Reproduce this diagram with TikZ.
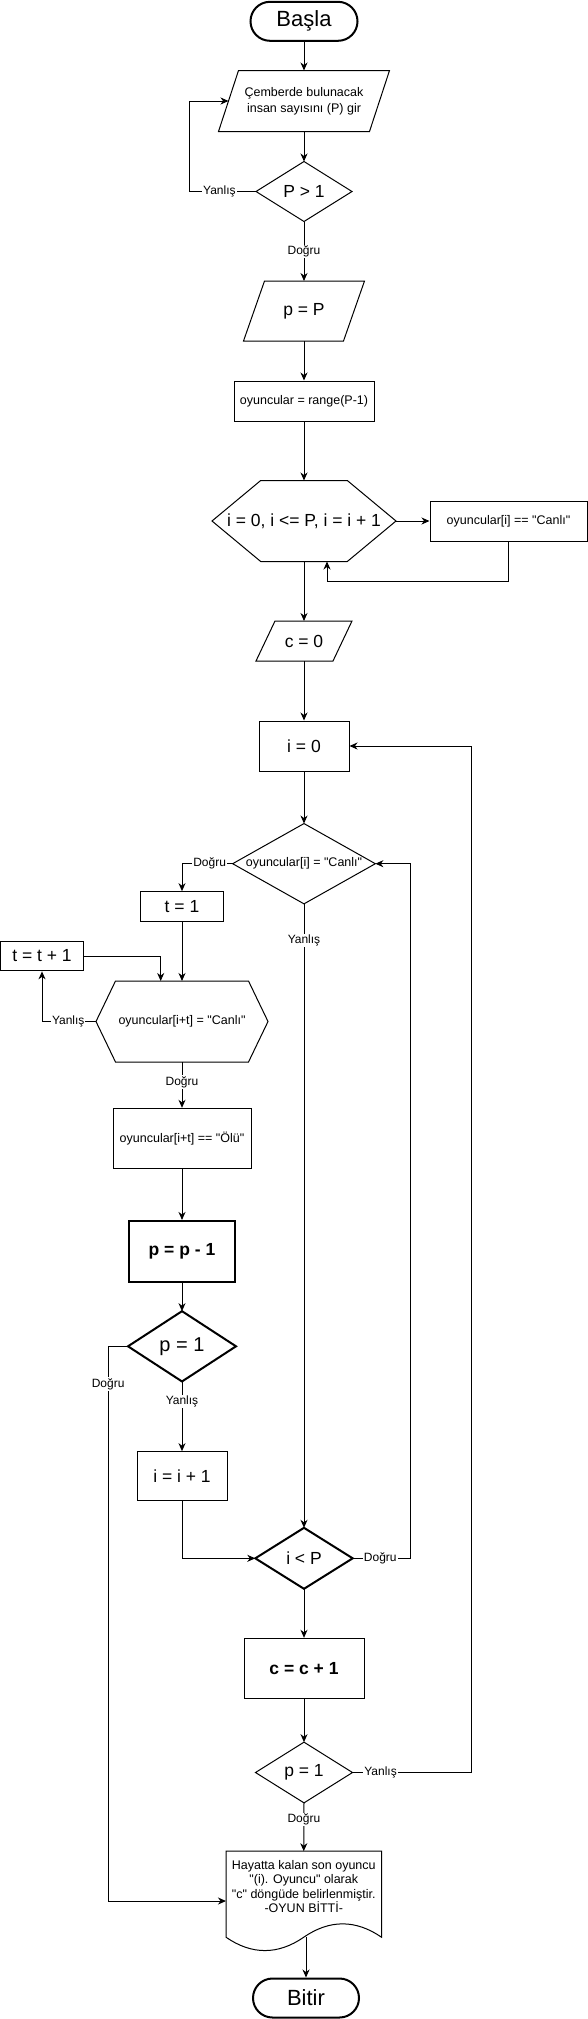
\documentclass[tikz,border=0pt]{standalone}
\usepackage{fontspec}
\setmainfont[Ligatures=TeXOff]{Liberation Sans}
\usetikzlibrary{arrows.meta}
\newcommand{\fsz}[2]{\fontsize{#1}{#2}\selectfont}
\begin{document}
\begin{tikzpicture}[x=1pt,y=-1pt,line width=1pt,
  arr/.style={-{Stealth[length=8pt,width=7pt,inset=2.5pt]},line width=1pt},
  box/.style={draw,rectangle,inner sep=0pt,align=center,font=\fsz{17.5}{21}},
  inv/.style={rectangle,inner sep=0pt,align=center,font=\fsz{17.5}{21}},
  small/.style={font=\fsz{12.5}{14.4}},
  lab/.style={fill=white,inner sep=1pt,font=\fsz{12}{14}},
  heavy/.style={line width=2pt},
  term/.style={box,heavy,rounded corners=19.5pt,font=\fsz{22}{26}}]
\useasboundingbox (0,0) rectangle (588,2019);

% nodes
\node[term,minimum width=107pt,minimum height=39pt] (start) at (304,21.3) {Başla};
\node[inv,font=\fsz{12.5}{16},minimum width=150pt,minimum height=60pt] (in1) at (304,101) {Çemberde bulunacak\\insan sayısını (P) gir};
\node[inv,minimum width=95pt,minimum height=59pt] (d1) at (304,191.5) {P > 1};
\node[inv,minimum width=99pt,minimum height=59pt] (in2) at (304,311) {p = P};
\node[box,small,minimum width=140pt,minimum height=40pt] (r1) at (304,401) {oyuncular = range(P-1)};
\node[inv,minimum width=183pt,minimum height=80pt] (h1) at (304,521) {i = 0, i <= P, i = i + 1};
\node[box,small,minimum width=157pt,minimum height=40pt] (r2) at (508.5,521) {oyuncular[i] == "Canlı"};
\node[inv,minimum width=76pt,minimum height=39pt] (in3) at (304,641) {c = 0};
\node[box,minimum width=90pt,minimum height=50pt] (r3) at (304,746) {i = 0};
\node[inv,small,minimum width=141.7pt,minimum height=79.3pt] (d2) at (304,863.7) {oyuncular[i] = "Canlı"};
\node[box,minimum width=83.6pt,minimum height=29.7pt] (r4) at (182,906.5) {t = 1};
\node[box,minimum width=82.5pt,minimum height=29.7pt] (r5) at (42,956) {t = t + 1};
\node[inv,small,minimum width=171pt,minimum height=80pt] (h2) at (182,1021.5) {oyuncular[i+t] = "Canlı"};
\node[box,small,minimum width=138pt,minimum height=60pt] (r6) at (182,1138.3) {oyuncular[i+t] == "Ölü"};
\node[box,heavy,font=\fsz{17.5}{21}\bfseries,minimum width=106.5pt,minimum height=60.7pt] (r7) at (182,1251.3) {p = p - 1};
\node[inv,font=\fsz{20}{24},minimum width=107pt,minimum height=69.3pt] (d3) at (182,1346.3) {p = 1};
\node[box,minimum width=90pt,minimum height=49.3pt] (r8) at (182,1476.3) {i = i + 1};
\node[inv,minimum width=96.4pt,minimum height=60pt] (d4) at (304,1558.3) {i < P};
\node[box,font=\fsz{17.5}{21}\bfseries,minimum width=120pt,minimum height=60pt] (r9) at (304,1668.3) {c = c + 1};
\node[inv,minimum width=96pt,minimum height=59.7pt] (d5) at (304,1772.5) {p = 1};
\node[inv,small,minimum width=154.5pt,minimum height=70pt] (doc) at (303.75,1886.7) {Hayatta kalan son oyuncu\\"(i). Oyuncu" olarak\\"c" döngüde belirlenmiştir.\\-OYUN BİTTİ-};
\node[term,minimum width=106pt,minimum height=39pt] (end) at (306,1998) {Bitir};

% outlines
\draw ([xshift=10pt]in1.north west) -- ([xshift=10pt]in1.north east) -- ([xshift=-10pt]in1.south east) -- ([xshift=-10pt]in1.south west) -- cycle;
\draw ([xshift=10.5pt]in2.north west) -- ([xshift=10.5pt]in2.north east) -- ([xshift=-10.5pt]in2.south east) -- ([xshift=-10.5pt]in2.south west) -- cycle;
\draw ([xshift=9.5pt]in3.north west) -- ([xshift=9.5pt]in3.north east) -- ([xshift=-9.5pt]in3.south east) -- ([xshift=-9.5pt]in3.south west) -- cycle;
\draw (d1.north) -- (d1.east) -- (d1.south) -- (d1.west) -- cycle;
\draw (d2.north) -- (d2.east) -- (d2.south) -- (d2.west) -- cycle;
\draw[heavy] (d3.north) -- (d3.east) -- (d3.south) -- (d3.west) -- cycle;
\draw[heavy] (d4.north) -- (d4.east) -- (d4.south) -- (d4.west) -- cycle;
\draw (d5.north) -- (d5.east) -- (d5.south) -- (d5.west) -- cycle;
\draw (h1.west) -- ([xshift=48.7pt]h1.north west) -- ([xshift=-48.7pt]h1.north east) -- (h1.east) -- ([xshift=-48.7pt]h1.south east) -- ([xshift=48.7pt]h1.south west) -- cycle;
\draw (h2.west) -- ([xshift=19.5pt]h2.north west) -- ([xshift=-19.5pt]h2.north east) -- (h2.east) -- ([xshift=-19.5pt]h2.south east) -- ([xshift=19.5pt]h2.south west) -- cycle;
\coordinate (dse) at ([yshift=-15pt]doc.south east);
\coordinate (dsw) at ([yshift=-15pt]doc.south west);
\coordinate (docb) at ([yshift=-15pt]doc.south);
\draw (doc.north west) -- (doc.north east) -- (dse) .. controls +(-25.75,-17.8) and +(25.75,-17.8) .. (docb) .. controls +(-25.75,17.8) and +(25.75,17.8) .. (dsw) -- cycle;

% connectors
\draw[arr] (start.south) -- (in1.north);
\draw[arr] (in1.south) -- (d1.north);
\draw[arr] (d1.west) -- node[lab,pos=0.55]{Yanlış} ++(-66.5,0) |- (in1.west);
\draw[arr] (d1.south) -- node[lab]{Doğru} (in2.north);
\draw[arr] (in2.south) -- (r1.north);
\draw[arr] (r1.south) -- (h1.north);
\draw[arr] (h1.east) -- (r2.west);
\draw[arr] (r2.south) -- ++(0,40) -| ([xshift=23pt]h1.south);
\draw[arr] (h1.south) -- (in3.north);
\draw[arr] (in3.south) -- (r3.north);
\draw[arr] (r3.south) -- (d2.north);
\draw[arr] (d2.west) -| node[lab,pos=0.227]{Doğru} (r4.north);
\draw[arr] (d2.south) -- node[lab,pos=0.059]{Yanlış} (d4.north);
\draw[arr] (r4.south) -- (h2.north);
\draw[arr] (r5.east) -| ([xshift=-21.3pt]h2.north);
\draw[arr] (h2.west) -| node[lab,pos=0.257]{Yanlış} (r5.south);
\draw[arr] (h2.south) -- node[lab,pos=0.434]{Doğru} (r6.north);
\draw[arr] (r6.south) -- (r7.north);
\draw[arr] (r7.south) -- (d3.north);
\draw[arr] (d3.west) -- ++(-19.9,0) |- node[lab,pos=0.034]{Doğru} ([yshift=-14.3pt]doc.west);
\draw[arr] (d3.south) -- node[lab,pos=0.29]{Yanlış} (r8.north);
\draw[arr] (r8.south) |- (d4.west);
\draw[arr] (d4.east) -- node[lab,pos=0.476]{Doğru} ++(57.9,0) |- (d2.east);
\draw[arr] (d4.south) -- (r9.north);
\draw[arr] (r9.south) -- (d5.north);
\draw[arr] (d5.east) -- node[lab,pos=0.237]{Yanlış} ++(118.5,0) |- (r3.east);
\draw[arr] (d5.south) -- node[lab,pos=0.344]{Doğru} (doc.north);
\draw[arr] (docb -| end.north) -- (end.north);
\end{tikzpicture}
\end{document}
